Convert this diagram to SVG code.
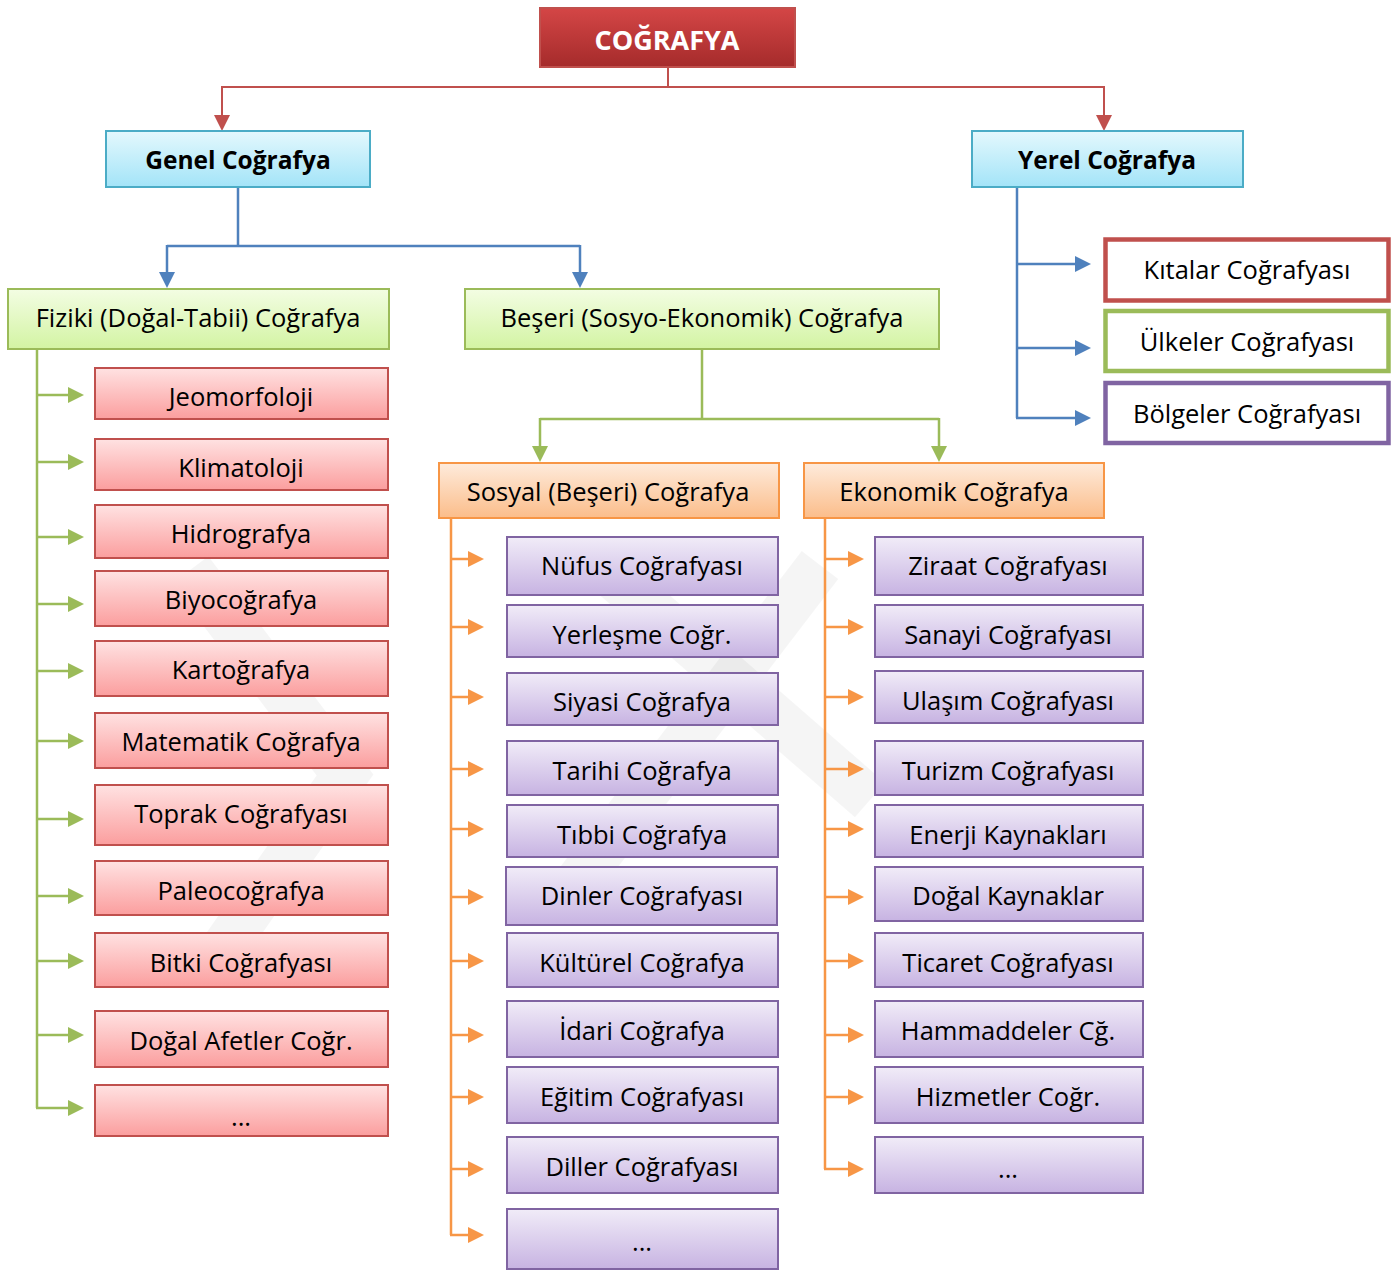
<svg xmlns="http://www.w3.org/2000/svg" width="1398" height="1270" viewBox="0 0 1398 1270">
<defs>
<linearGradient id="gTitle" x1="0" y1="0" x2="0" y2="1"><stop offset="0" stop-color="#d44646"/><stop offset="1" stop-color="#a52b2b"/></linearGradient>
<linearGradient id="gCyan" x1="0" y1="0" x2="0" y2="1"><stop offset="0" stop-color="#e4f8fd"/><stop offset="1" stop-color="#a3e4f8"/></linearGradient>
<linearGradient id="gGreen" x1="0" y1="0" x2="0" y2="1"><stop offset="0" stop-color="#f3fde3"/><stop offset="1" stop-color="#d3f4a3"/></linearGradient>
<linearGradient id="gRed" x1="0" y1="0" x2="0" y2="1"><stop offset="0" stop-color="#ffe2e2"/><stop offset="1" stop-color="#fb9e9e"/></linearGradient>
<linearGradient id="gOrange" x1="0" y1="0" x2="0" y2="1"><stop offset="0" stop-color="#feebdc"/><stop offset="1" stop-color="#fbbd8a"/></linearGradient>
<linearGradient id="gPurple" x1="0" y1="0" x2="0" y2="1"><stop offset="0" stop-color="#f1ecf8"/><stop offset="1" stop-color="#c7b3e2"/></linearGradient>
<marker id="aRed" markerUnits="userSpaceOnUse" markerWidth="16" markerHeight="16" refX="0" refY="8" orient="auto" viewBox="0 0 16 16"><path d="M0,0 L16,8 L0,16 z" fill="#c0504d"/></marker>
<marker id="aBlue" markerUnits="userSpaceOnUse" markerWidth="16" markerHeight="16" refX="0" refY="8" orient="auto" viewBox="0 0 16 16"><path d="M0,0 L16,8 L0,16 z" fill="#4f81bd"/></marker>
<marker id="aGreen" markerUnits="userSpaceOnUse" markerWidth="16" markerHeight="16" refX="0" refY="8" orient="auto" viewBox="0 0 16 16"><path d="M0,0 L16,8 L0,16 z" fill="#9bbb59"/></marker>
<marker id="aOrange" markerUnits="userSpaceOnUse" markerWidth="16" markerHeight="16" refX="0" refY="8" orient="auto" viewBox="0 0 16 16"><path d="M0,0 L16,8 L0,16 z" fill="#f79646"/></marker>
</defs>
<style>
text{font-family:"Open Sans","Noto Sans","Liberation Sans",sans-serif;font-size:25.5px;fill:#000;text-anchor:middle}
.b{font-weight:bold;font-size:24.5px}
.t{font-weight:bold;font-size:27px;fill:#fff}
.title{fill:url(#gTitle);stroke:#c0504d;stroke-width:2}
.cyan{fill:url(#gCyan);stroke:#4bacc6;stroke-width:2}
.green{fill:url(#gGreen);stroke:#9bbb59;stroke-width:2}
.red{fill:url(#gRed);stroke:#c0504d;stroke-width:2}
.orange{fill:url(#gOrange);stroke:#f79646;stroke-width:2}
.purple{fill:url(#gPurple);stroke:#8064a2;stroke-width:2}
.w1{fill:#fff;stroke:#c0504d;stroke-width:4.5}
.w2{fill:#fff;stroke:#9bbb59;stroke-width:4.5}
.w3{fill:#fff;stroke:#8064a2;stroke-width:4.5}
.c{fill:none;stroke-width:2}
.cr{stroke:#c0504d}
.cb{stroke:#4f81bd;stroke-width:2.5}
.cg{stroke:#9bbb59;stroke-width:2.5}
.co{stroke:#f79646;stroke-width:2.5}
.wm{fill:none;stroke:#000;stroke-opacity:0.04;stroke-width:46;stroke-linejoin:miter}
</style>
<rect width="1398" height="1270" fill="#fff"/>
<g id="watermark">
<polyline class="wm" points="190,570 345,775 205,975"/>
<polyline class="wm" points="820,565 560,905"/>
<polyline class="wm" points="600,565 870,800"/>
</g>
<g id="connectors">
<path class="c cr" d="M668,67 V87"/>
<path class="c cr" d="M222,87 H1104"/>
<path class="c cr" d="M222,86 V115" marker-end="url(#aRed)"/>
<path class="c cr" d="M1104,86 V115" marker-end="url(#aRed)"/>
<path class="c cb" d="M238,187 V246 M167,246 H580"/>
<path class="c cb" d="M167,245 V272" marker-end="url(#aBlue)"/>
<path class="c cb" d="M580,245 V272" marker-end="url(#aBlue)"/>
<path class="c cb" d="M1017,187 V418"/>
<path class="c cb" d="M1016,264 H1075" marker-end="url(#aBlue)"/>
<path class="c cb" d="M1016,348 H1075" marker-end="url(#aBlue)"/>
<path class="c cb" d="M1016,418 H1075" marker-end="url(#aBlue)"/>
<path class="c cg" d="M37,349 V1108"/>
<path class="c cg" d="M36,395 H68" marker-end="url(#aGreen)"/>
<path class="c cg" d="M36,462 H68" marker-end="url(#aGreen)"/>
<path class="c cg" d="M36,537 H68" marker-end="url(#aGreen)"/>
<path class="c cg" d="M36,604 H68" marker-end="url(#aGreen)"/>
<path class="c cg" d="M36,671 H68" marker-end="url(#aGreen)"/>
<path class="c cg" d="M36,741 H68" marker-end="url(#aGreen)"/>
<path class="c cg" d="M36,819 H68" marker-end="url(#aGreen)"/>
<path class="c cg" d="M36,896 H68" marker-end="url(#aGreen)"/>
<path class="c cg" d="M36,961 H68" marker-end="url(#aGreen)"/>
<path class="c cg" d="M36,1035 H68" marker-end="url(#aGreen)"/>
<path class="c cg" d="M36,1108 H68" marker-end="url(#aGreen)"/>
<path class="c cg" d="M702,349 V419 M540,419 H939"/>
<path class="c cg" d="M540,418 V446" marker-end="url(#aGreen)"/>
<path class="c cg" d="M939,418 V446" marker-end="url(#aGreen)"/>
<path class="c co" d="M451,519 V1235"/>
<path class="c co" d="M450,559 H468" marker-end="url(#aOrange)"/>
<path class="c co" d="M450,627 H468" marker-end="url(#aOrange)"/>
<path class="c co" d="M450,697 H468" marker-end="url(#aOrange)"/>
<path class="c co" d="M450,769 H468" marker-end="url(#aOrange)"/>
<path class="c co" d="M450,829 H468" marker-end="url(#aOrange)"/>
<path class="c co" d="M450,897 H468" marker-end="url(#aOrange)"/>
<path class="c co" d="M450,961 H468" marker-end="url(#aOrange)"/>
<path class="c co" d="M450,1035 H468" marker-end="url(#aOrange)"/>
<path class="c co" d="M450,1097 H468" marker-end="url(#aOrange)"/>
<path class="c co" d="M450,1169 H468" marker-end="url(#aOrange)"/>
<path class="c co" d="M450,1235 H468" marker-end="url(#aOrange)"/>
<path class="c co" d="M825,519 V1169"/>
<path class="c co" d="M824,559 H848" marker-end="url(#aOrange)"/>
<path class="c co" d="M824,627 H848" marker-end="url(#aOrange)"/>
<path class="c co" d="M824,697 H848" marker-end="url(#aOrange)"/>
<path class="c co" d="M824,769 H848" marker-end="url(#aOrange)"/>
<path class="c co" d="M824,829 H848" marker-end="url(#aOrange)"/>
<path class="c co" d="M824,897 H848" marker-end="url(#aOrange)"/>
<path class="c co" d="M824,961 H848" marker-end="url(#aOrange)"/>
<path class="c co" d="M824,1035 H848" marker-end="url(#aOrange)"/>
<path class="c co" d="M824,1097 H848" marker-end="url(#aOrange)"/>
<path class="c co" d="M824,1169 H848" marker-end="url(#aOrange)"/>
</g>
<g id="n-cografya"><rect class="title" x="540" y="8" width="255" height="59"/><text class="t" x="667" y="50">COĞRAFYA</text></g>
<g id="n-genel"><rect class="cyan" x="106" y="131" width="264" height="56"/><text class="b" x="238" y="169">Genel Coğrafya</text></g>
<g id="n-yerel"><rect class="cyan" x="972" y="131" width="271" height="56"/><text class="b" x="1107" y="169">Yerel Coğrafya</text></g>
<g id="n-kitalar"><rect class="w1" x="1105.5" y="239.5" width="283" height="61"/><text x="1247" y="279">Kıtalar Coğrafyası</text></g>
<g id="n-ulkeler"><rect class="w2" x="1105.5" y="311" width="283" height="60"/><text x="1247" y="351">Ülkeler Coğrafyası</text></g>
<g id="n-bolgeler"><rect class="w3" x="1105.5" y="383" width="283" height="60"/><text x="1247" y="423">Bölgeler Coğrafyası</text></g>
<g id="n-fiziki"><rect class="green" x="8" y="289" width="381" height="60"/><text x="198" y="327">Fiziki (Doğal-Tabii) Coğrafya</text></g>
<g id="n-beseri"><rect class="green" x="465" y="289" width="474" height="60"/><text x="702" y="327">Beşeri (Sosyo-Ekonomik) Coğrafya</text></g>
<g id="n-jeomorfoloji"><rect class="red" x="95" y="368" width="293" height="51"/><text x="241" y="406">Jeomorfoloji</text></g>
<g id="n-klimatoloji"><rect class="red" x="95" y="439" width="293" height="51"/><text x="241" y="477">Klimatoloji</text></g>
<g id="n-hidrografya"><rect class="red" x="95" y="505" width="293" height="53"/><text x="241" y="543">Hidrografya</text></g>
<g id="n-biyocografya"><rect class="red" x="95" y="571" width="293" height="55"/><text x="241" y="609">Biyocoğrafya</text></g>
<g id="n-kartografya"><rect class="red" x="95" y="641" width="293" height="55"/><text x="241" y="679">Kartoğrafya</text></g>
<g id="n-matematik"><rect class="red" x="95" y="713" width="293" height="55"/><text x="241" y="751">Matematik Coğrafya</text></g>
<g id="n-toprak"><rect class="red" x="95" y="785" width="293" height="60"/><text x="241" y="823">Toprak Coğrafyası</text></g>
<g id="n-paleo"><rect class="red" x="95" y="861" width="293" height="54"/><text x="241" y="900">Paleocoğrafya</text></g>
<g id="n-bitki"><rect class="red" x="95" y="933" width="293" height="54"/><text x="241" y="972">Bitki Coğrafyası</text></g>
<g id="n-afetler"><rect class="red" x="95" y="1011" width="293" height="56"/><text x="241" y="1050">Doğal Afetler Coğr.</text></g>
<g id="n-fiziki-etc"><rect class="red" x="95" y="1085" width="293" height="51"/><text x="241" y="1126">...</text></g>
<g id="n-sosyal"><rect class="orange" x="439" y="463" width="340" height="55"/><text x="608" y="501">Sosyal (Beşeri) Coğrafya</text></g>
<g id="n-ekonomik"><rect class="orange" x="804" y="463" width="300" height="55"/><text x="954" y="501">Ekonomik Coğrafya</text></g>
<g id="n-nufus"><rect class="purple" x="507" y="537" width="271" height="58"/><text x="642" y="575">Nüfus Coğrafyası</text></g>
<g id="n-yerlesme"><rect class="purple" x="507" y="605" width="271" height="52"/><text x="642" y="644">Yerleşme Coğr.</text></g>
<g id="n-siyasi"><rect class="purple" x="507" y="673" width="271" height="52"/><text x="642" y="711">Siyasi Coğrafya</text></g>
<g id="n-tarihi"><rect class="purple" x="507" y="741" width="271" height="54"/><text x="642" y="780">Tarihi Coğrafya</text></g>
<g id="n-tibbi"><rect class="purple" x="507" y="805" width="271" height="52"/><text x="642" y="844">Tıbbi Coğrafya</text></g>
<g id="n-dinler"><rect class="purple" x="506" y="867" width="271" height="58"/><text x="642" y="905">Dinler Coğrafyası</text></g>
<g id="n-kulturel"><rect class="purple" x="507" y="933" width="271" height="54"/><text x="642" y="972">Kültürel Coğrafya</text></g>
<g id="n-idari"><rect class="purple" x="507" y="1001" width="271" height="56"/><text x="642" y="1040">İdari Coğrafya</text></g>
<g id="n-egitim"><rect class="purple" x="507" y="1067" width="271" height="56"/><text x="642" y="1106">Eğitim Coğrafyası</text></g>
<g id="n-diller"><rect class="purple" x="507" y="1137" width="271" height="56"/><text x="642" y="1176">Diller Coğrafyası</text></g>
<g id="n-sosyal-etc"><rect class="purple" x="507" y="1209" width="271" height="60"/><text x="642" y="1251">...</text></g>
<g id="n-ziraat"><rect class="purple" x="875" y="537" width="268" height="58"/><text x="1008" y="575">Ziraat Coğrafyası</text></g>
<g id="n-sanayi"><rect class="purple" x="875" y="605" width="268" height="52"/><text x="1008" y="644">Sanayi Coğrafyası</text></g>
<g id="n-ulasim"><rect class="purple" x="875" y="671" width="268" height="52"/><text x="1008" y="710">Ulaşım Coğrafyası</text></g>
<g id="n-turizm"><rect class="purple" x="875" y="741" width="268" height="54"/><text x="1008" y="780">Turizm Coğrafyası</text></g>
<g id="n-enerji"><rect class="purple" x="875" y="805" width="268" height="52"/><text x="1008" y="844">Enerji Kaynakları</text></g>
<g id="n-dogal-kaynaklar"><rect class="purple" x="875" y="867" width="268" height="54"/><text x="1008" y="905">Doğal Kaynaklar</text></g>
<g id="n-ticaret"><rect class="purple" x="875" y="933" width="268" height="54"/><text x="1008" y="972">Ticaret Coğrafyası</text></g>
<g id="n-hammaddeler"><rect class="purple" x="875" y="1001" width="268" height="56"/><text x="1008" y="1040">Hammaddeler Cğ.</text></g>
<g id="n-hizmetler"><rect class="purple" x="875" y="1067" width="268" height="56"/><text x="1008" y="1106">Hizmetler Coğr.</text></g>
<g id="n-ekonomik-etc"><rect class="purple" x="875" y="1137" width="268" height="56"/><text x="1008" y="1178">...</text></g>
</svg>
